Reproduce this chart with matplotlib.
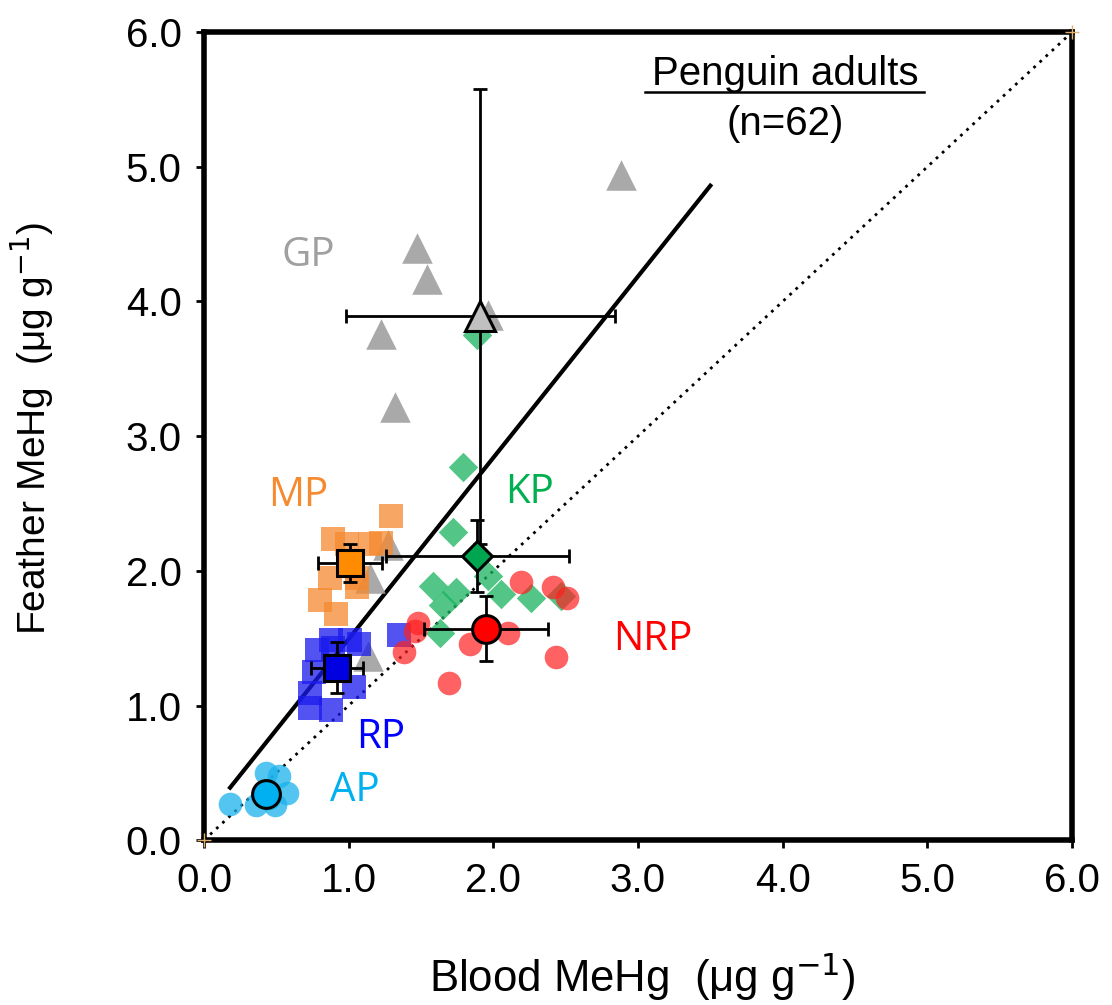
import numpy as np
import matplotlib.pyplot as plt

plt.rcParams['font.family'] = ['Liberation Sans', 'DejaVu Sans']
plt.rcParams['mathtext.default'] = 'regular'

# individual birds (blood MeHg, feather MeHg)
gp_x = [2.88, 1.47, 1.54, 1.22, 1.32, 1.96, 1.27, 1.15, 1.13]
gp_y = [4.94, 4.40, 4.17, 3.76, 3.22, 3.90, 2.19, 1.95, 1.37]

kp_x = [1.89, 1.79, 1.72, 1.58, 1.74, 1.65, 1.63, 1.96, 2.05, 2.26, 2.47]
kp_y = [3.75, 2.77, 2.29, 1.89, 1.84, 1.75, 1.54, 1.96, 1.83, 1.80, 1.81]

nrp_x = [2.19, 2.41, 2.51, 2.10, 1.84, 2.43, 1.69, 1.48, 1.38, 1.46]
nrp_y = [1.92, 1.88, 1.80, 1.54, 1.46, 1.36, 1.17, 1.61, 1.40, 1.55]

mp_x = [1.29, 0.89, 0.99, 1.15, 1.22, 0.87, 1.06, 1.06, 0.80, 0.91]
mp_y = [2.41, 2.24, 2.20, 2.20, 2.21, 1.95, 1.95, 1.88, 1.78, 1.68]

rp_x = [1.35, 0.88, 1.01, 1.07, 0.78, 0.76, 1.04, 0.73, 0.73, 0.88, 0.89]
rp_y = [1.52, 1.49, 1.49, 1.46, 1.41, 1.25, 1.14, 1.09, 0.98, 0.97, 1.43]

ap_x = [0.18, 0.43, 0.52, 0.57, 0.36, 0.49, 0.45]
ap_y = [0.27, 0.50, 0.48, 0.35, 0.26, 0.26, 0.31]

# species means and SD  (mean_x, mean_y, sd_x, sd_y)
gp_mean = (1.91, 3.89, 0.93, 1.69)
kp_mean = (1.89, 2.11, 0.63, 0.27)
nrp_mean = (1.95, 1.57, 0.43, 0.24)
mp_mean = (1.01, 2.06, 0.22, 0.14)
rp_mean = (0.92, 1.28, 0.18, 0.19)
ap_mean = (0.43, 0.34, 0.0, 0.0)

# regression line end points
reg_x = [0.18, 3.50]
reg_y = [0.39, 4.86]

fig = plt.figure(figsize=(11.12, 10.05), dpi=100)
ax = fig.add_axes([0.1835, 0.164, 0.7805, 0.804])

ax.plot([0, 6], [0, 6], color='black', ls=(0, (1, 2)), lw=2, zorder=1)
ax.plot(reg_x, reg_y, color='black', lw=3, zorder=2)

ms = 17
ax.scatter(gp_x, gp_y, marker='^', s=22**2, color='#a0a0a0', alpha=0.9, lw=0, zorder=3)
ax.scatter(mp_x, mp_y, marker='s', s=ms**2, color='#f58a2f', alpha=0.75, lw=0, zorder=3)
ax.scatter(rp_x, rp_y, marker='s', s=ms**2, color='#1a1aee', alpha=0.75, lw=0, zorder=3)
ax.scatter(kp_x, kp_y, marker='D', s=15**2, color='#19b35f', alpha=0.75, lw=0, zorder=3)
ax.scatter(nrp_x, nrp_y, marker='o', s=ms**2, color='#ff2020', alpha=0.7, lw=0, zorder=3)
ax.scatter(ap_x, ap_y, marker='o', s=ms**2, color='#1ab2ec', alpha=0.75, lw=0, zorder=3)

means = [
    (gp_mean, '^', '#c0c0c0', 22),
    (kp_mean, 'D', '#00a550', 15),
    (nrp_mean, 'o', '#ff0000', 20),
    (mp_mean, 's', '#ff8c00', 19),
    (rp_mean, 's', '#0000e0', 19),
    (ap_mean, 'o', '#00b0f0', 20),
]
for (mx, my, sx, sy), mk, col, size in means:
    ax.errorbar(mx, my, xerr=sx, yerr=sy, fmt='none', ecolor='black',
                elinewidth=2, capsize=5, capthick=2, zorder=4)
    ax.plot(mx, my, marker=mk, ms=size, mfc=col, mec='black', mew=2.2, zorder=5)

# corner markers
ax.plot([0, 6], [0, 6], ls='none', marker='+', ms=10, color='#e0b070', zorder=6, clip_on=False)

lab_font = dict(family=['Open Sans', 'DejaVu Sans'], fontsize=29)
ax.text(0.72, 4.34, 'GP', color='#a0a0a0', ha='center', va='center', **lab_font)
ax.text(0.65, 2.56, 'MP', color='#f58a2f', ha='center', va='center', **lab_font)
ax.text(2.25, 2.58, 'KP', color='#00b050', ha='center', va='center', **lab_font)
ax.text(3.10, 1.49, 'NRP', color='#ff0000', ha='center', va='center', **lab_font)
ax.text(1.22, 0.76, 'RP', color='#0000ff', ha='center', va='center', **lab_font)
ax.text(1.04, 0.37, 'AP', color='#00b0f0', ha='center', va='center', **lab_font)

ax.text(4.02, 5.61, 'Penguin adults', ha='center', va='baseline', fontsize=29)
ax.plot([3.05, 4.98], [5.555, 5.555], color='black', lw=1.8)
ax.text(4.02, 5.235, '(n=62)', ha='center', va='baseline', fontsize=29)

ax.set_xlim(0, 6)
ax.set_ylim(0, 6)
ticks = [0, 1, 2, 3, 4, 5, 6]
ax.set_xticks(ticks)
ax.set_yticks(ticks)
ax.set_xticklabels([f'{v:.1f}' for v in ticks])
ax.set_yticklabels([f'{v:.1f}' for v in ticks])
ax.tick_params(labelsize=29, width=2, length=6, direction='out', pad=10)
for sp in ax.spines.values():
    sp.set_linewidth(4)

ax.set_xlabel('Blood MeHg  (μg g$^{\\mathsf{-1}}$)', fontsize=31.5)
ax.set_ylabel('Feather MeHg  (μg g$^{\\mathsf{-1}}$)', fontsize=28)
ax.xaxis.label.set_va('baseline')
ax.yaxis.label.set_va('baseline')
ax.xaxis.set_label_coords(0.505, -0.188)
ax.yaxis.set_label_coords(-0.183, 0.51)

fig.savefig('out.png', dpi=100)
